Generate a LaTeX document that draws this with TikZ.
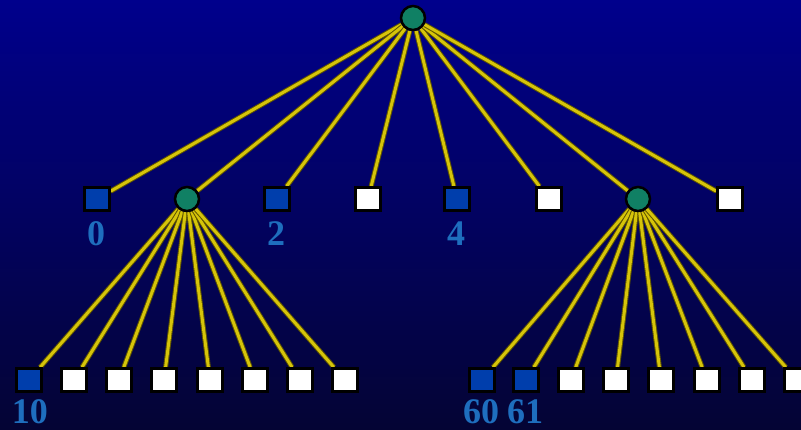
\documentclass[tikz,border=0pt]{standalone}
\usepackage{fontspec}
\setmainfont{Liberation Serif}
\pgfdeclarelayer{back}
\pgfdeclarelayer{wires}
\pgfsetlayers{back,wires,main}
\definecolor{bgtop}{RGB}{0,0,140}
\definecolor{bgbot}{RGB}{4,4,52}
\definecolor{wire}{RGB}{214,196,10}
\definecolor{wireedge}{RGB}{95,85,0}
\definecolor{inner}{RGB}{16,128,100}
\definecolor{fullsq}{RGB}{0,62,172}
\definecolor{lbl}{RGB}{30,110,190}
\tikzset{
  x=1pt, y=-1pt,
  branch/.style={circle, draw=black, line width=2.5pt, fill=inner, minimum size=24pt, inner sep=0pt},
  fullbox/.style={rectangle, draw=black, line width=2.5pt, fill=fullsq, minimum width=25pt, minimum height=23pt, inner sep=0pt},
  emptybox/.style={rectangle, draw=black, line width=2.5pt, fill=white, minimum width=25pt, minimum height=23pt, inner sep=0pt},
  wirestyle/.style={draw=wireedge, line width=1pt, double=wire, double distance=3pt},
  idx/.style={font=\bfseries\fontsize{36}{36}\selectfont, text=lbl, inner sep=0pt}
}
\begin{document}
\begin{tikzpicture}
\begin{pgfonlayer}{back}
  \shade[top color=bgtop, bottom color=bgbot] (0,0) rectangle (801,430);
\end{pgfonlayer}
\useasboundingbox (0,0) rectangle (801,430);

% root
\node[branch] (r) at (413,18) {};

% first level
\node[fullbox]  (m0) at (97,199) {};
\node[branch]   (m1) at (187,199) {};
\node[fullbox]  (m2) at (277,199) {};
\node[emptybox] (m3) at (368,199) {};
\node[fullbox]  (m4) at (457,199) {};
\node[emptybox] (m5) at (549,199) {};
\node[branch]   (m6) at (638,199) {};
\node[emptybox] (m7) at (730,199) {};

% second level under slot 1
\node[fullbox]  (a0) at (29,380) {};
\node[emptybox] (a1) at (74,380) {};
\node[emptybox] (a2) at (119,380) {};
\node[emptybox] (a3) at (164,380) {};
\node[emptybox] (a4) at (210,380) {};
\node[emptybox] (a5) at (255,380) {};
\node[emptybox] (a6) at (300,380) {};
\node[emptybox] (a7) at (345,380) {};

% second level under slot 6
\node[fullbox]  (b0) at (482,380) {};
\node[fullbox]  (b1) at (526,380) {};
\node[emptybox] (b2) at (571,380) {};
\node[emptybox] (b3) at (616,380) {};
\node[emptybox] (b4) at (661,380) {};
\node[emptybox] (b5) at (707,380) {};
\node[emptybox] (b6) at (752,380) {};
\node[emptybox] (b7) at (797,380) {};

% connectors
\begin{pgfonlayer}{wires}
  \foreach \k in {0,...,7} {
    \draw[wirestyle] (r) -- (m\k);
    \draw[wirestyle] (m1) -- (a\k);
    \draw[wirestyle] (m6) -- (b\k);
  }
\end{pgfonlayer}

% slot labels
\node[idx] (l0)  at (96,234)  {0};
\node[idx] (l2)  at (276,234) {2};
\node[idx] (l4)  at (456,234) {4};
\node[idx] (l10) at (30,412)  {10};
\node[idx] (l60) at (481,412) {60};
\node[idx] (l61) at (525,412) {61};
\end{tikzpicture}
\end{document}
